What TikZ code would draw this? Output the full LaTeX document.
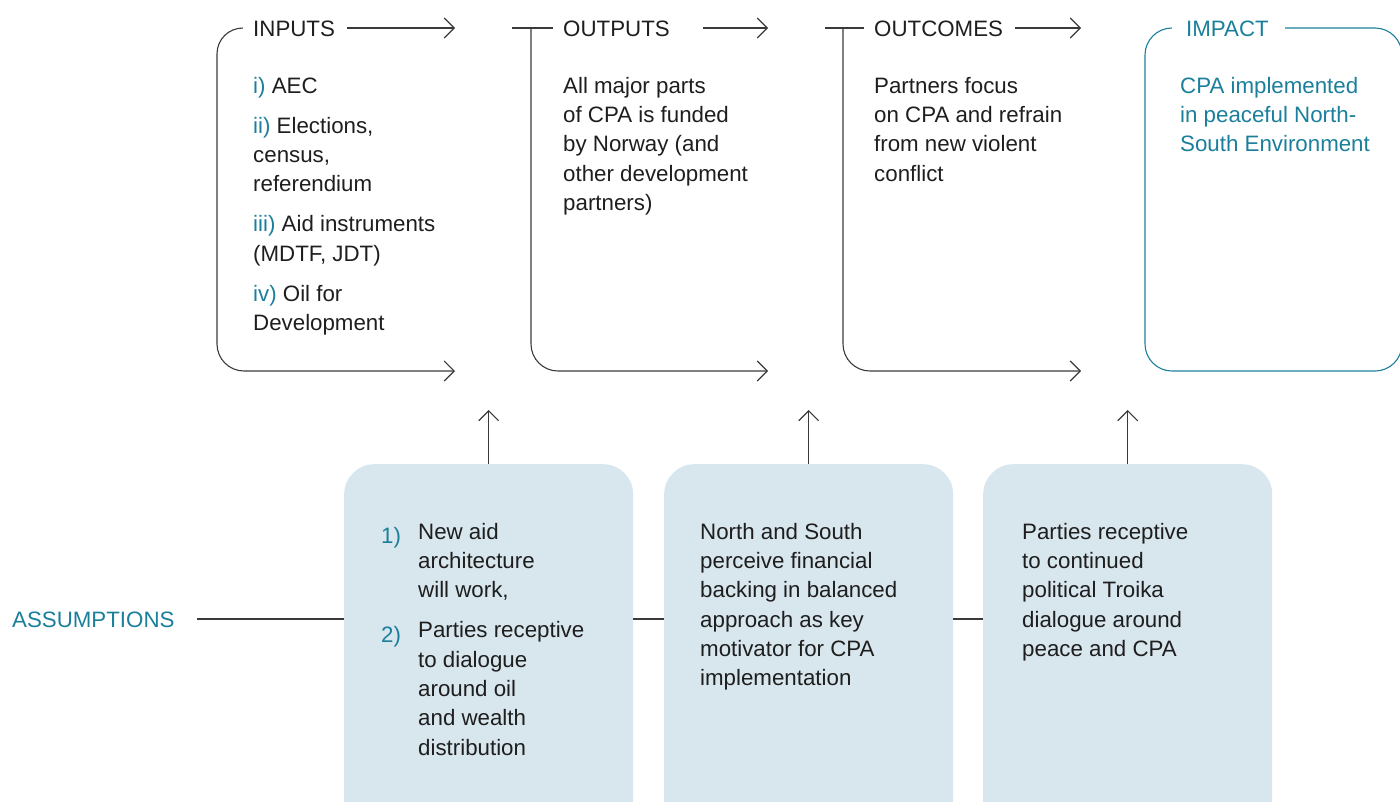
\documentclass[tikz,border=0pt]{standalone}
\usepackage{fontspec}
\setmainfont{Liberation Sans}
\usetikzlibrary{arrows.meta}
\definecolor{tealc}{HTML}{1B7F9B}
\definecolor{linec}{HTML}{3A3A3A}
\definecolor{textc}{HTML}{1E1E1E}
\definecolor{boxfill}{HTML}{D8E6EE}
\begin{document}
\begin{tikzpicture}[x=1pt,y=-1pt,
  ln/.style={draw=linec, line width=1.1pt},
  arr/.style={ln, -{Straight Barb[length=10pt,width=20pt,line width=1.1pt]}},
  txt/.style={inner sep=0pt, anchor=north west, align=left, text=textc,
    font=\fontsize{22.3}{29.3}\selectfont,
    execute at begin node={\rule{0pt}{20pt}}},
  ttl/.style={txt},
  abox/.style={fill=boxfill, draw=none, rounded corners=30pt, anchor=north west,
    minimum width=289pt, minimum height=370pt, inner sep=0pt}]
\useasboundingbox (0,0) rectangle (1400,801);
\newcommand{\tn}[1]{\textcolor{tealc}{#1}}

% ---- titles (y = baseline - 20)
\node[ttl] (tin) at (253,16.5) {INPUTS};
\node[ttl] (tout) at (563,16.5) {OUTPUTS};
\node[ttl] (toc) at (874,16.5) {OUTCOMES};
\node[ttl, text=tealc] (timp) at (1186,16.5) {IMPACT};

% ---- top arrows
\coordinate (a1s) at (347,28); \coordinate (a1e) at (455,28);
\coordinate (a2s) at (703,28); \coordinate (a2e) at (768,28);
\coordinate (a3s) at (1015,28); \coordinate (a3e) at (1081,28);
\draw[arr] (a1s) -- (a1e);
\draw[arr] (a2s) -- (a2e);
\draw[arr] (a3s) -- (a3e);

% ---- INPUTS bracket
\coordinate (b1e) at (455,371);
\draw[arr] (243,28) .. controls (228.6,28) and (217,39.4) .. (217,54)
  -- (217,344) .. controls (217,358.9) and (229.1,371) .. (244,371) -- (b1e);
% ---- OUTPUTS bracket
\coordinate (b2e) at (768,371);
\draw[ln] (512,28) -- (553,28);
\draw[arr] (531,28) -- (531,344) .. controls (531,358.9) and (543.1,371) .. (558,371) -- (b2e);
% ---- OUTCOMES bracket
\coordinate (b3e) at (1081,371);
\draw[ln] (825,28) -- (864,28);
\draw[arr] (843,28) -- (843,344) .. controls (843,358.9) and (855.1,371) .. (870,371) -- (b3e);
% ---- IMPACT box
\draw[draw=tealc, line width=1.1pt] (1172,28) .. controls (1157.1,28) and (1145,40.1) .. (1145,55)
  -- (1145,344) .. controls (1145,358.9) and (1157.1,371) .. (1172,371)
  -- (1375,371) .. controls (1389.9,371) and (1402,358.9) .. (1402,344)
  -- (1402,55) .. controls (1402,40.1) and (1389.9,28) .. (1375,28) -- (1285,28);

% ---- top texts
\node[txt] (inl) at (253,77) {\tn{i)} AEC\\[10.7pt]
  \tn{ii)} Elections,\\ census,\\ referendium\\[10.7pt]
  \tn{iii)} Aid instruments\\ (MDTF, JDT)\\[10.7pt]
  \tn{iv)} Oil for\\ Development};
\node[txt] (outl) at (563,77) {All major parts\\ of CPA is funded\\ by Norway (and\\ other development\\ partners)};
\node[txt] (ocl) at (874,77) {Partners focus\\ on CPA and refrain\\ from new violent\\ conflict};
\node[txt, text=tealc] (impl) at (1180,77) {CPA implemented\\ in peaceful North-\\ South Environment};

% ---- assumption boxes
\node[abox] (as1) at (344,464) {};
\node[abox] (as2) at (664,464) {};
\node[abox] (as3) at (983,464) {};

\draw[arr] (as1.north) -- ++(0,-54);
\draw[arr] (as2.north) -- ++(0,-54);
\draw[arr] (as3.north) -- ++(0,-54);

\node[txt, text=tealc] (assum) at (12,607.5) {ASSUMPTIONS};
\coordinate (l0) at (197,619);
\draw[ln] (l0) -- (l0 -| as1.west);
\draw[ln] (as1.east |- l0) -- (as2.west |- l0);
\draw[ln] (as2.east |- l0) -- (as3.west |- l0);

\node[txt] (n1) at (381,523) {\tn{1)}};
\node[txt] (n2) at (381,622) {\tn{2)}};
\node[txt] (as1t) at (418,523) {New aid\\ architecture\\ will work,\\[10.7pt]
  Parties receptive\\ to dialogue\\ around oil\\ and wealth\\ distribution};
\node[txt] (as2t) at (700,523) {North and South\\ perceive financial\\ backing in balanced\\ approach as key\\ motivator for CPA\\ implementation};
\node[txt] (as3t) at (1022,523) {Parties receptive\\ to continued\\ political Troika\\ dialogue around\\ peace and CPA};
\end{tikzpicture}
\end{document}
